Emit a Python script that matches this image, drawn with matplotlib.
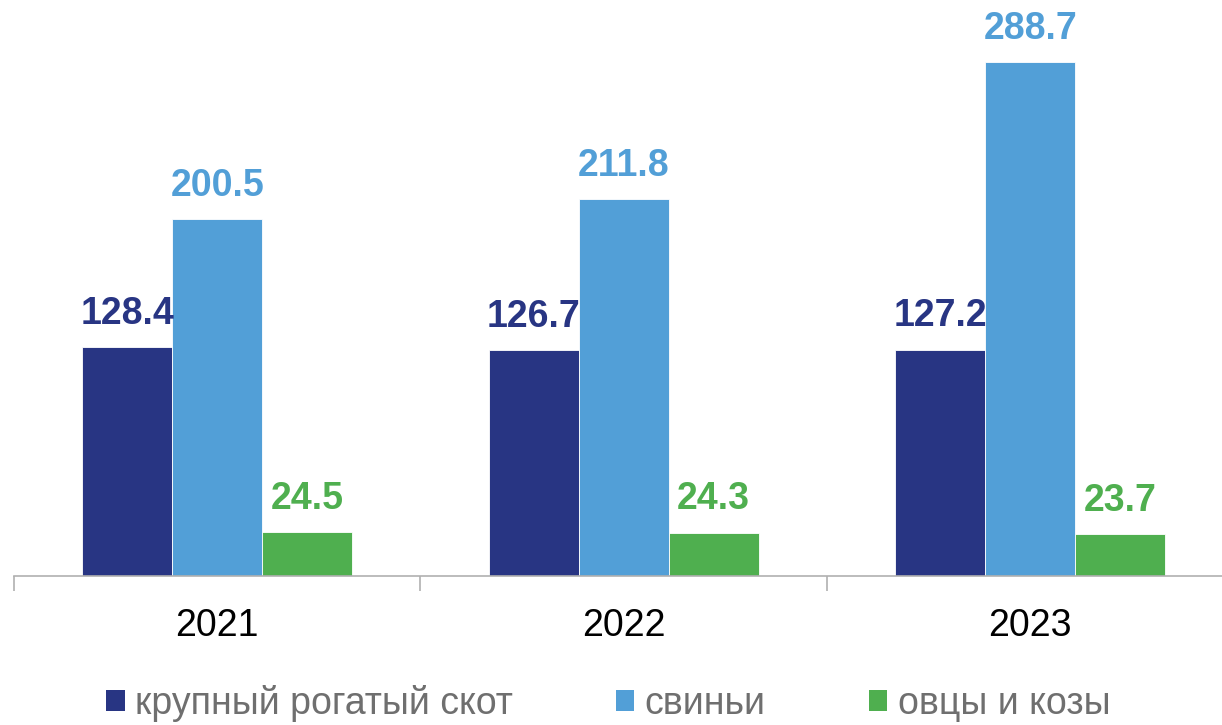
import matplotlib
matplotlib.use("Agg")
import matplotlib.pyplot as plt
import numpy as np
from matplotlib.patches import Patch

years = ["2021", "2022", "2023"]
series_names = ["крупный рогатый скот", "свиньи", "овцы и козы"]
cattle = [128.4, 126.7, 127.2]
pigs = [200.5, 211.8, 288.7]
sheep = [24.5, 24.3, 23.7]
colors = ["#283583", "#529FD7", "#4FAF4F"]

plt.rcParams['font.family'] = ['Liberation Sans', 'DejaVu Sans']

W, H = 1222, 725
fig = plt.figure(figsize=(W / 100, H / 100), dpi=100)
ax_left, ax_right = 14, 1233.5
ax_bottom, ax_top = 576, 10
ax = fig.add_axes([ax_left / W, (H - ax_bottom) / H, (ax_right - ax_left) / W, (ax_bottom - ax_top) / H])

ymax = (ax_bottom - ax_top) / ((576 - 62) / 288.7)
ax.set_xlim(0, 3)
ax.set_ylim(0, ymax)

x = np.arange(len(years)) + 0.5
bw = 90 / 406.5
for i, (vals, c) in enumerate(zip([cattle, pigs, sheep], colors)):
    xs = x + (i - 1) * bw
    ax.bar(xs, vals, width=bw, color=c, edgecolor='white', linewidth=0.6)
    for xi, v in zip(xs, vals):
        ax.annotate(f"{v:.1f}", (xi, v), xytext=(0, 11), textcoords='offset points',
                    ha='center', va='bottom', fontsize=27, fontweight='bold', color=c)

for s in ['top', 'right', 'left']:
    ax.spines[s].set_visible(False)
ax.spines['bottom'].set_color('#b0b0b0')
ax.spines['bottom'].set_linewidth(1.2)
ax.set_yticks([])
ax.set_xticks([0, 1, 2, 3])
ax.set_xticks(x, minor=True)
ax.set_xticklabels([])
ax.set_xticklabels(years, minor=True, fontsize=27, color='black')
ax.tick_params(axis='x', which='major', length=11, width=1.2, color='#b0b0b0', direction='out')
ax.tick_params(axis='x', which='minor', length=0, pad=23)

handles = [Patch(facecolor=c, edgecolor='none') for c in colors]
leg = fig.legend(handles, series_names, loc='center', bbox_to_anchor=(608 / W, (H - 703) / H),
                 ncol=3, frameon=False, handlelength=0.5, handleheight=0.5,
                 handletextpad=0.27, columnspacing=2.75, borderpad=0, borderaxespad=0,
                 prop={'family': ['Liberation Sans', 'DejaVu Sans'], 'size': 27})
for t in leg.get_texts():
    t.set_color('#6f6f6f')

fig.savefig("out.png", dpi=100)
